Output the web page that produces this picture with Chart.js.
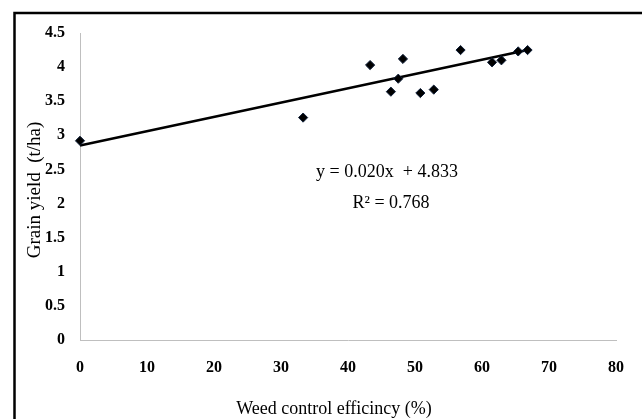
<!DOCTYPE html>
<html>
<head>
<meta charset="utf-8">
<script src="https://cdn.jsdelivr.net/npm/chart.js@4.4.1/dist/chart.umd.min.js"></script>
<style>
  html, body { margin: 0; padding: 0; background: #fff; overflow: hidden; }
  canvas { display: block; }
</style>
</head>
<body>
<canvas id="yieldChart" width="642" height="419"></canvas>
<script>
// weed control efficiency (%) vs grain yield (t/ha)
const wceValues = [0, 33.3, 43.3, 46.4, 47.5, 48.2, 50.8, 52.8, 56.8, 61.5, 62.9, 65.4, 66.8];
const yieldValues = [2.92, 3.26, 4.03, 3.64, 3.83, 4.12, 3.62, 3.67, 4.25, 4.07, 4.10, 4.23, 4.25];

// trend line end points
const trendX = [0, 66.8];
const trendY = [2.85, 4.25];

const xTicks = [0, 10, 20, 30, 40, 50, 60, 70, 80];
const yTicks = [0, 0.5, 1, 1.5, 2, 2.5, 3, 3.5, 4, 4.5];

const xTitle = "Weed control efficincy (%)";
const yTitle = "Grain yield  (t/ha)";
const eqLines = ["y = 0.020x  + 4.833", "R\u00B2 = 0.768"];

const SERIF = "'Liberation Serif', 'Times New Roman', serif";

// frame + free texts (titles, equation)
const textPlugin = {
  id: "textPlugin",
  afterDraw(chart) {
    const ctx = chart.ctx;
    ctx.save();

    // outer frame (right/bottom edges fall outside the picture)
    ctx.strokeStyle = "#000";
    ctx.lineWidth = 2.5;
    ctx.strokeRect(14.5, 13, 700, 500);

    ctx.fillStyle = "#000";
    ctx.textAlign = "center";
    ctx.textBaseline = "middle";

    ctx.font = "18px " + SERIF;
    ctx.fillText(xTitle, 334, 409);

    ctx.save();
    ctx.translate(35, 190);
    ctx.rotate(-Math.PI / 2);
    ctx.font = "19px " + SERIF;
    ctx.fillText(yTitle, 0, 0);
    ctx.restore();

    ctx.font = "18px " + SERIF;
    ctx.fillText(eqLines[0], 387, 172);
    ctx.fillText(eqLines[1], 391, 203);

    ctx.restore();
  }
};

const ctx = document.getElementById("yieldChart").getContext("2d");

new Chart(ctx, {
  type: "scatter",
  data: {
    datasets: [
      {
        label: "Grain yield",
        data: wceValues.map((x, i) => ({ x, y: yieldValues[i] })),
        pointStyle: "rectRot",
        pointRadius: 4.6,
        pointHoverRadius: 4.6,
        backgroundColor: "#000",
        borderColor: "#10203a",
        borderWidth: 1,
        clip: false
      },
      {
        label: "Linear",
        type: "line",
        data: trendX.map((x, i) => ({ x, y: trendY[i] })),
        borderColor: "#000",
        borderWidth: 2.5,
        pointRadius: 0,
        fill: false,
        tension: 0,
        clip: false
      }
    ]
  },
  options: {
    responsive: false,
    animation: false,
    devicePixelRatio: 1,
    layout: { padding: { top: 33, right: 22, left: 0, bottom: 0 } },
    plugins: {
      legend: { display: false },
      tooltip: { enabled: false }
    },
    scales: {
      x: {
        type: "linear",
        min: 0,
        max: 80,
        afterBuildTicks: (scale) => { scale.ticks = xTicks.map((v) => ({ value: v })); },
        afterFit: (scale) => { scale.height = 79; },
        grid: { drawOnChartArea: false, drawTicks: false },
        border: { color: "#bfbfbf", width: 1 },
        ticks: {
          padding: 18,
          color: "#000",
          font: { family: SERIF, size: 16, weight: "bold" },
          callback: (v) => String(v)
        }
      },
      y: {
        type: "linear",
        min: 0,
        max: 4.5,
        afterBuildTicks: (scale) => { scale.ticks = yTicks.map((v) => ({ value: v })); },
        afterFit: (scale) => { scale.width = 80; },
        grid: { drawOnChartArea: false, drawTicks: false },
        border: { color: "#bfbfbf", width: 1 },
        ticks: {
          padding: 15,
          color: "#000",
          font: { family: SERIF, size: 16, weight: "bold" },
          callback: (v) => String(v)
        }
      }
    }
  },
  plugins: [textPlugin]
});
</script>
</body>
</html>
